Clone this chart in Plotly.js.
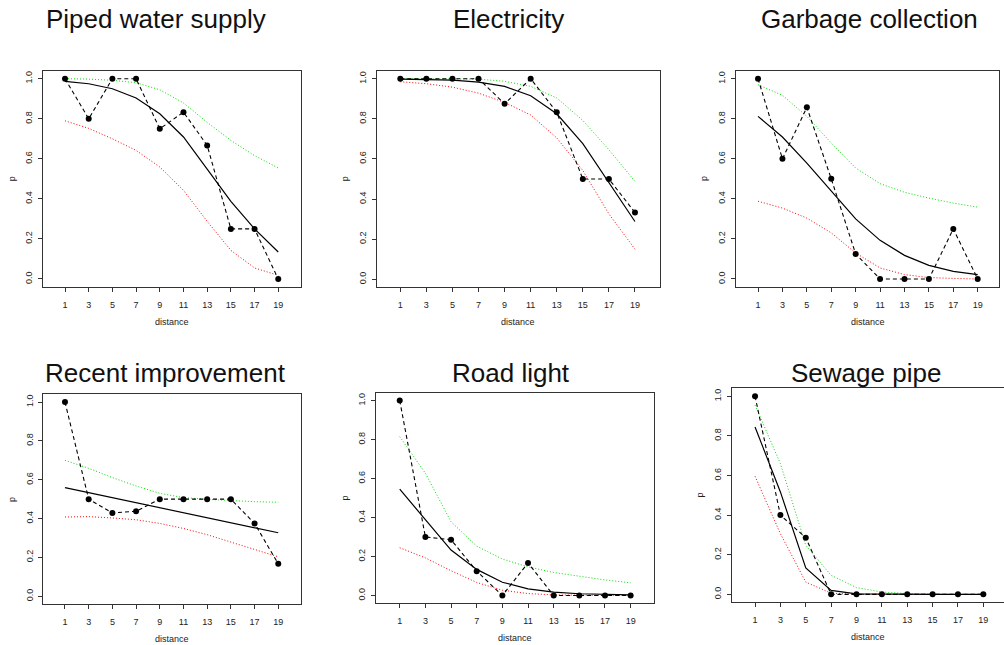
<!DOCTYPE html>
<html>
<head>
<meta charset="utf-8">
<script src="https://cdn.plot.ly/plotly-3.0.1.min.js"></script>
<style>html,body{margin:0;padding:0;background:#fff;}#chart{width:1004px;height:645px;}</style>
</head>
<body>
<div id="chart"></div>
<script>
// ---- data ----
const distance = [1, 3, 5, 7, 9, 11, 13, 15, 17, 19];
const yTicks = [0, 0.2, 0.4, 0.6, 0.8, 1.0];
const yTickLabels = ["0.0", "0.2", "0.4", "0.6", "0.8", "1.0"];
const panelTitles = ["Piped water supply", "Electricity", "Garbage collection",
                     "Recent improvement", "Road light", "Sewage pipe"];

// observed proportions (dashed with points)
const obsPiped   = [1.0, 0.8, 1.0, 1.0, 0.75, 0.833, 0.667, 0.25, 0.25, 0.0];
const obsElec    = [1.0, 1.0, 1.0, 1.0, 0.875, 1.0, 0.833, 0.5, 0.5, 0.333];
const obsGarb    = [1.0, 0.6, 0.857, 0.5, 0.125, 0.0, 0.0, 0.0, 0.25, 0.0];
const obsRecent  = [1.0, 0.5, 0.429, 0.4375, 0.5, 0.5, 0.5, 0.5, 0.375, 0.167];
const obsRoad    = [1.0, 0.3, 0.286, 0.125, 0.0, 0.167, 0.0, 0.0, 0.0, 0.0];
const obsSewage  = [1.0, 0.4, 0.286, 0.0, 0.0, 0.0, 0.0, 0.0, 0.0, 0.0];

// fitted curves (solid black)
const fitPiped   = [0.987, 0.975, 0.95, 0.904, 0.825, 0.709, 0.549, 0.388, 0.25, 0.135];
const fitElec    = [0.998, 0.997, 0.993, 0.983, 0.962, 0.915, 0.825, 0.676, 0.483, 0.288];
const fitGarb    = [0.812, 0.709, 0.579, 0.438, 0.30, 0.193, 0.118, 0.068, 0.038, 0.022];
const fitRecent  = [0.559, 0.533, 0.507, 0.481, 0.456, 0.430, 0.404, 0.378, 0.353, 0.327];
const fitRoad    = [0.545, 0.387, 0.233, 0.134, 0.068, 0.034, 0.017, 0.009, 0.005, 0.003];
const fitSewage  = [0.845, 0.517, 0.133, 0.020, 0.003, 0.001, 0.0, 0.0, 0.0, 0.0];

// upper bound (green dotted)
const upPiped    = [1.0, 0.998, 0.992, 0.98, 0.945, 0.879, 0.782, 0.692, 0.616, 0.554];
const upElec     = [1.0, 1.0, 0.999, 0.998, 0.987, 0.962, 0.904, 0.792, 0.646, 0.488];
const upGarb     = [0.97, 0.917, 0.812, 0.679, 0.554, 0.476, 0.433, 0.404, 0.379, 0.359];
const upRecent   = [0.70, 0.659, 0.611, 0.568, 0.530, 0.508, 0.499, 0.492, 0.487, 0.484];
const upRoad     = [0.815, 0.627, 0.378, 0.253, 0.187, 0.147, 0.118, 0.099, 0.08, 0.065];
const upSewage   = [0.955, 0.66, 0.247, 0.096, 0.034, 0.012, 0.004, 0.001, 0.0, 0.0];

// lower bound (red dotted)
const loPiped    = [0.79, 0.752, 0.70, 0.642, 0.559, 0.443, 0.288, 0.143, 0.055, 0.018];
const loElec     = [0.985, 0.975, 0.958, 0.928, 0.882, 0.819, 0.705, 0.542, 0.326, 0.15];
const loGarb     = [0.388, 0.354, 0.304, 0.23, 0.13, 0.055, 0.022, 0.007, 0.003, 0.0];
const loRecent   = [0.408, 0.41, 0.403, 0.394, 0.375, 0.349, 0.317, 0.279, 0.241, 0.203];
const loRoad     = [0.245, 0.193, 0.127, 0.067, 0.027, 0.01, 0.003, 0.001, 0.0, 0.0];
const loSewage   = [0.596, 0.306, 0.062, 0.006, 0.0, 0.0, 0.0, 0.0, 0.0, 0.0];

const observed = [obsPiped, obsElec, obsGarb, obsRecent, obsRoad, obsSewage];
const fitted   = [fitPiped, fitElec, fitGarb, fitRecent, fitRoad, fitSewage];
const upper    = [upPiped, upElec, upGarb, upRecent, upRoad, upSewage];
const lower    = [loPiped, loElec, loGarb, loRecent, loRoad, loSewage];

// ---- layout geometry (pixels) ----
const W = 1004, H = 645;
const boxes = [
  {x0: 43,    x1: 301,   y0: 70.7,  y1: 287,   xr: [-0.857, 20.92]},
  {x0: 376.7, x1: 660,   y0: 70.7,  y1: 287.3, xr: [-0.81, 20.92]},
  {x0: 735.7, x1: 999.3, y0: 70.7,  y1: 287,   xr: [-0.83, 20.77]},
  {x0: 43.3,  x1: 301,   y0: 394.3, y1: 604,   xr: [-0.83, 20.92]},
  {x0: 376,   x1: 654,   y0: 392.7, y1: 603.3, xr: [-0.85, 20.82]},
  {x0: 731.7, x1: 1004,  y0: 388.3, y1: 602.3, xr: [-0.84, 20.63]}
];
const titlePos = [
  {x: 156, y: 19}, {x: 508, y: 19}, {x: 869, y: 19},
  {x: 165.5, y: 373}, {x: 511, y: 373}, {x: 865.5, y: 373}
];

const FONT = "Liberation Sans, Arial, Helvetica, sans-serif";
const traces = [];
const layout = {
  width: W, height: H,
  margin: {l: 0, r: 0, t: 0, b: 0},
  paper_bgcolor: "#ffffff", plot_bgcolor: "#ffffff",
  showlegend: false,
  font: {family: FONT, color: "#222"},
  annotations: []
};

boxes.forEach((b, i) => {
  const n = i + 1;
  const xa = "x" + (n === 1 ? "" : n), ya = "y" + (n === 1 ? "" : n);
  const xk = "xaxis" + (n === 1 ? "" : n), yk = "yaxis" + (n === 1 ? "" : n);
  layout[xk] = {
    domain: [b.x0 / W, b.x1 / W], range: b.xr, anchor: ya,
    tickmode: "array", tickvals: distance, ticktext: distance.map(String),
    ticks: "outside", ticklen: 4, tickcolor: "#333", tickwidth: 1,
    showline: true, mirror: true, linecolor: "#333", linewidth: 1,
    showgrid: false, zeroline: false, fixedrange: true,
    tickfont: {size: 9, family: FONT, color: "#222"}, ticklabelstandoff: 5
  };
  layout[yk] = {
    domain: [1 - b.y1 / H, 1 - b.y0 / H], range: [-0.04, 1.04], anchor: xa,
    tickmode: "array", tickvals: yTicks, ticktext: yTickLabels, tickangle: -90,
    ticks: "outside", ticklen: 4, tickcolor: "#333", tickwidth: 1,
    showline: true, mirror: true, linecolor: "#333", linewidth: 1,
    showgrid: false, zeroline: false, fixedrange: true,
    tickfont: {size: 9, family: FONT, color: "#222"}, ticklabelstandoff: 2
  };
  // bounds and fit
  traces.push({x: distance, y: upper[i], xaxis: xa, yaxis: ya, type: "scatter", mode: "lines",
               line: {color: "#00dd00", width: 1, dash: "1px,2px"}, hoverinfo: "skip"});
  traces.push({x: distance, y: lower[i], xaxis: xa, yaxis: ya, type: "scatter", mode: "lines",
               line: {color: "#ff0000", width: 1, dash: "1px,2px"}, hoverinfo: "skip"});
  traces.push({x: distance, y: fitted[i], xaxis: xa, yaxis: ya, type: "scatter", mode: "lines",
               line: {color: "#000000", width: 1.2}, hoverinfo: "skip"});
  traces.push({x: distance, y: observed[i], xaxis: xa, yaxis: ya, type: "scatter", mode: "lines+markers",
               line: {color: "#000000", width: 1.1, dash: "4px,3px"},
               marker: {color: "#000000", size: 6}, hoverinfo: "skip"});
  // titles and axis labels
  layout.annotations.push({text: panelTitles[i], xref: "paper", yref: "paper",
    x: titlePos[i].x / W, y: 1 - titlePos[i].y / H, xanchor: "center", yanchor: "middle",
    showarrow: false, font: {size: 26, family: FONT, color: "#111"}});
  layout.annotations.push({text: "p", xref: "paper", yref: "paper",
    x: (b.x0 - 31.5) / W, y: 1 - ((b.y0 + b.y1) / 2) / H, xanchor: "center", yanchor: "middle",
    textangle: -90, showarrow: false, font: {size: 9, family: FONT, color: "#222"}});
  layout.annotations.push({text: "distance", xref: "paper", yref: "paper",
    x: ((b.x0 + Math.min(b.x1, 1007)) / 2) / W, y: 1 - (b.y1 + 35) / H, xanchor: "center", yanchor: "middle",
    showarrow: false, font: {size: 9, family: FONT, color: "#222"}});
});

Plotly.newPlot("chart", traces, layout, {staticPlot: true, displayModeBar: false});
</script>
</body>
</html>
